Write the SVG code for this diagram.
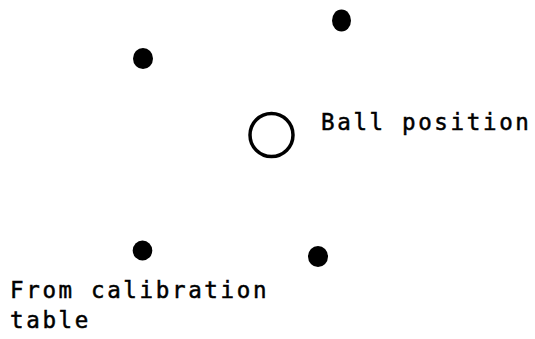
<svg xmlns="http://www.w3.org/2000/svg" width="535" height="339" viewBox="0 0 535 339">
<style>
.dot{fill:#000}
.ball{fill:none;stroke:#000;stroke-width:3.5}
.lbl{font-family:"DejaVu Sans Mono","Liberation Mono",monospace;font-size:22.5px;letter-spacing:2.65px;fill:#000;stroke:#000;stroke-width:0.5}
</style>
<rect width="535" height="339" fill="#fff"/>
<g id="dot-top-right"><ellipse class="dot" cx="341.5" cy="20.5" rx="9.5" ry="11"/></g>
<g id="dot-top-left"><ellipse class="dot" cx="143" cy="58.5" rx="10" ry="10.5"/></g>
<g id="ball"><circle class="ball" cx="271.5" cy="135" r="21.5"/><text class="lbl" x="321" y="130">Ball position</text></g>
<g id="dot-bottom-left"><ellipse class="dot" cx="142.5" cy="250.5" rx="9.8" ry="10"/></g>
<g id="dot-bottom-right"><ellipse class="dot" cx="318" cy="256.5" rx="10" ry="10.5"/></g>
<g id="calibration-label"><text class="lbl" x="10" y="298">From calibration</text><text class="lbl" x="10" y="328">table</text></g>
<g id="connectors"></g>
</svg>
